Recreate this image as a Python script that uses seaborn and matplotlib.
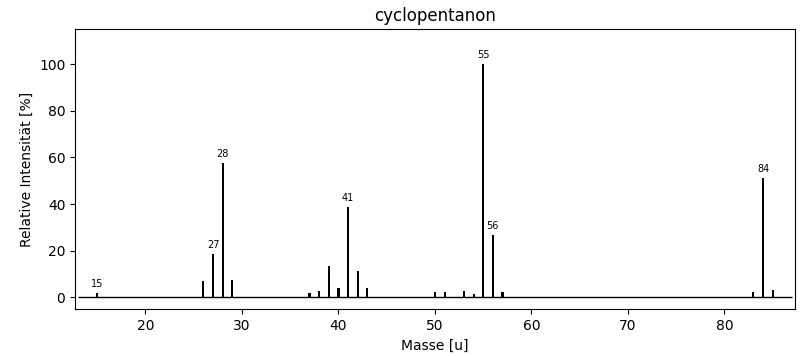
import matplotlib
matplotlib.use("Agg")
import matplotlib.pyplot as plt
import pandas as pd
import seaborn as sns

# mass spectrum of cyclopentanone (m/z -> relative intensity %)
MASSES = [15, 26, 27, 28, 29, 37, 38, 39, 40, 41, 42, 43,
          50, 51, 53, 54, 55, 56, 57, 83, 84, 85]
INTENSITY = [1.7, 6.9, 18.5, 57.5, 7.3, 1.7, 2.6, 13.3, 3.9, 38.6, 11.2, 3.9,
             2.1, 2.1, 2.7, 1.3, 100.0, 26.6, 2.1, 2.1, 51.1, 3.0]
LABELED = [15, 27, 28, 41, 55, 56, 84]

df = pd.DataFrame({"mz": MASSES, "rel": INTENSITY})

fig, ax = plt.subplots(figsize=(8.07, 3.56), dpi=100)
fig.subplots_adjust(left=0.093, right=0.985, top=0.918, bottom=0.131)

# no edges: empty bins would otherwise leave specks on the baseline
sns.histplot(data=df, x="mz", weights="rel", discrete=True, shrink=0.22,
             color="black", alpha=1, linewidth=0, ax=ax)
ax.hlines(0, 13, 87, color="black", lw=1)

for m, v in zip(MASSES, INTENSITY):
    if m in LABELED:
        ax.annotate(str(m), (m, v), xytext=(0, 3), textcoords="offset points",
                    ha="center", va="bottom", fontsize=7)

ax.set_xlim(12.7, 87.3)
ax.set_ylim(-5.2, 115)
ax.set_title("cyclopentanon", fontsize=12)
ax.set_xlabel("Masse [u]")
ax.set_ylabel("Relative Intensität [%]")

fig.savefig("out.png", dpi=100)
plt.close(fig)
